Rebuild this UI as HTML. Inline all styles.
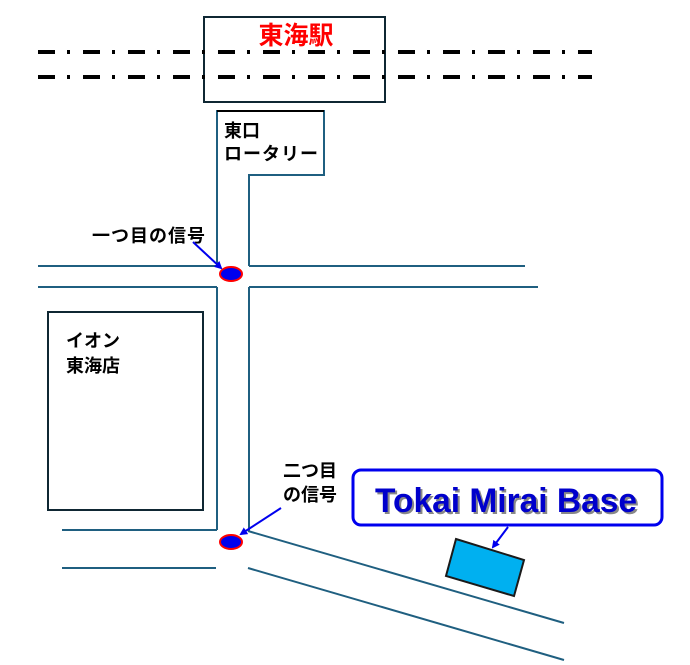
<!DOCTYPE html>
<html><head><meta charset="utf-8"><style>
html,body{margin:0;padding:0;background:#fff;}
svg{display:block;}
text{font-family:"Liberation Sans","Noto Sans CJK JP",sans-serif;}
</style></head><body>
<svg width="690" height="665" viewBox="0 0 690 665" xmlns="http://www.w3.org/2000/svg">
<defs>
<marker id="ah" markerWidth="8" markerHeight="8" refX="6" refY="4" orient="auto" markerUnits="userSpaceOnUse">
<path d="M0,0 L8,4 L0,8 z" fill="#0000ee"/></marker>
</defs>
<!-- station -->
<rect x="204" y="17" width="181" height="85" fill="none" stroke="#0f2733" stroke-width="2"/>
<text x="296" y="44" font-size="25" font-weight="bold" fill="#ff0000" text-anchor="middle">東海駅</text>
<g stroke="#000" stroke-width="4" stroke-dasharray="17,12,3,13">
<line x1="38" y1="52" x2="592" y2="52"/>
<line x1="38" y1="77" x2="592" y2="77"/>
</g>
<!-- rotary -->
<g fill="none" stroke="#1f5f80" stroke-width="2">
<polyline points="217,266 217,111 324,111 324,175 249,175 249,266"/>
<line x1="38" y1="266" x2="217" y2="266"/>
<line x1="249" y1="266" x2="525" y2="266"/>
<line x1="38" y1="287" x2="217" y2="287"/>
<line x1="249" y1="287" x2="538" y2="287"/>
<line x1="217" y1="287" x2="217" y2="530"/>
<line x1="249" y1="287" x2="249" y2="531"/>
<line x1="62" y1="530" x2="217" y2="530"/>
<line x1="62" y1="568" x2="216" y2="568"/>
<line x1="248" y1="531" x2="564" y2="623"/>
<line x1="248" y1="568" x2="564" y2="660"/>
</g>
<line x1="217" y1="111" x2="324" y2="111" stroke="#000" stroke-width="2"/>
<text x="224" y="137" font-size="18" font-weight="bold" fill="#000">東口</text>
<text x="224" y="160" font-size="18" font-weight="bold" fill="#000" textLength="94">ロータリー</text>
<!-- aeon -->
<rect x="48" y="312" width="155" height="198" fill="none" stroke="#0f2733" stroke-width="2"/>
<text x="66" y="347" font-size="18" font-weight="bold">イオン</text>
<text x="66" y="372" font-size="18" font-weight="bold">東海店</text>
<!-- signals -->
<ellipse cx="231" cy="274" rx="11" ry="7" fill="#0000ee" stroke="#ff0000" stroke-width="2"/>
<ellipse cx="231" cy="542" rx="11" ry="7" fill="#0000ee" stroke="#ff0000" stroke-width="2"/>
<text x="92" y="242" font-size="18" font-weight="bold" textLength="113">一つ目の信号</text>
<line x1="193" y1="242" x2="221" y2="268" stroke="#0000ee" stroke-width="2" marker-end="url(#ah)"/>
<text x="283" y="477" font-size="18" font-weight="bold">二つ目</text>
<text x="283" y="501" font-size="18" font-weight="bold">の信号</text>
<line x1="281" y1="508" x2="241" y2="534" stroke="#0000ee" stroke-width="2" marker-end="url(#ah)"/>
<!-- building -->
<polygon points="456,539 524,560 514,596 446,576" fill="#00b0f0" stroke="#1a1a1a" stroke-width="2"/>
<rect x="353" y="470" width="309" height="55" rx="8" fill="#fff" stroke="#0000ee" stroke-width="3"/>
<text x="377" y="514" font-size="34" font-weight="bold" fill="#888" textLength="262" lengthAdjust="spacingAndGlyphs">Tokai Mirai Base</text>
<text x="375" y="512" font-size="34" font-weight="bold" fill="#0000cc" textLength="262" lengthAdjust="spacingAndGlyphs">Tokai Mirai Base</text>
<line x1="508" y1="527" x2="493" y2="547" stroke="#0000ee" stroke-width="2" marker-end="url(#ah)"/>
</svg>
</body></html>
